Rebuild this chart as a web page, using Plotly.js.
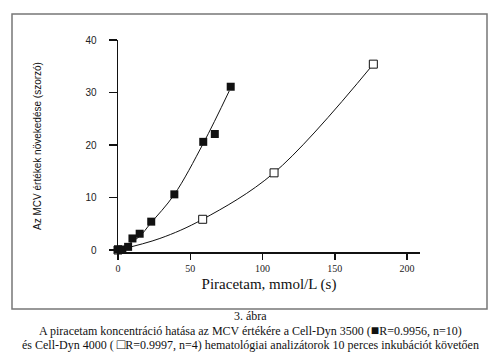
<!DOCTYPE html>
<html>
<head>
<meta charset="utf-8">
<script src="https://cdn.plot.ly/plotly-3.0.1.min.js"></script>
<style>html,body{margin:0;padding:0;background:#fff;}#chart{width:500px;height:352px;}</style>
</head>
<body>
<div id="chart"></div>
<script>
// Cell-Dyn 3500 (filled squares)
const cd3500X = [0, 3, 7, 10, 15, 23, 39, 59, 67, 78];
const cd3500Y = [0.1, 0.1, 0.6, 2.2, 3.1, 5.4, 10.6, 20.6, 22.1, 31.1];
// fitted curve
const cd3500FitX = [0, 14.5, 22.6, 38.8, 59, 77];
const cd3500FitY = [0, 2.5, 5.1, 10.5, 20.3, 30.3];
// Cell-Dyn 4000 (open squares)
const cd4000X = [0, 58.6, 108, 176.7];
const cd4000Y = [0, 5.85, 14.7, 35.4];
const cd4000FitX = [0, 29, 58.6, 108, 176.7];
const cd4000FitY = [0, 2.2, 5.85, 14.7, 35.4];

const xTicks = [0, 50, 100, 150, 200];
const yTicks = [0, 10, 20, 30, 40];

const xTitle = 'Piracetam, mmol/L (s)';
const yTitle = 'Az MCV értékek növekedése (szorzó)';
const caption1 = '3. ábra';
const caption2 = 'A piracetam koncentráció hatása az MCV értékére a Cell-Dyn 3500 (<span style="font-size:14px">■</span>R=0.9956, n=10)';
const caption3 = 'és Cell-Dyn 4000 ( <span style="font-size:14px">□</span>R=0.9997, n=4) hematológiai analizátorok 10 perces inkubációt követően';

const traces = [
  {x: cd3500FitX, y: cd3500FitY, mode: 'lines', line: {color: '#111', width: 1, shape: 'spline'}, hoverinfo: 'skip', showlegend: false, cliponaxis: false},
  {x: cd4000FitX, y: cd4000FitY, mode: 'lines', line: {color: '#111', width: 1, shape: 'spline'}, hoverinfo: 'skip', showlegend: false, cliponaxis: false},
  {x: cd4000X, y: cd4000Y, mode: 'markers', name: 'Cell-Dyn 4000', marker: {symbol: 'square', size: 8, color: '#fff', line: {color: '#111', width: 1}}, cliponaxis: false},
  {x: cd3500X, y: cd3500Y, mode: 'markers', name: 'Cell-Dyn 3500', marker: {symbol: 'square', size: 8, color: '#111', line: {color: '#111', width: 0}}, cliponaxis: false}
];

const L = 118, R = 80, T = 40, B = 100;
const W = 500 - L - R, H = 352 - T - B;
const px = v => (v - L) / W;
const py = v => (352 - B - v) / H;

const layout = {
  width: 500, height: 352,
  margin: {l: L, r: R, t: T, b: B, pad: 0},
  paper_bgcolor: '#fff', plot_bgcolor: '#fff',
  showlegend: false,
  font: {family: 'Liberation Sans, Arial, sans-serif', color: '#222', size: 10},
  xaxis: {
    range: [0, 209], tickvals: xTicks, ticktext: xTicks.map(String),
    showgrid: false, zeroline: false, showline: true, linecolor: '#111', linewidth: 1.5,
    ticks: 'outside', ticklen: 6, tickwidth: 1.5, tickcolor: '#111',
    tickfont: {family: 'Liberation Serif, Times New Roman, serif', size: 10, color: '#222'},
    title: {text: xTitle, font: {family: 'Liberation Serif, Times New Roman, serif', size: 15, color: '#111'}, standoff: 6}
  },
  yaxis: {
    range: [-0.38, 40], tickvals: yTicks, ticktext: yTicks.map(String),
    showgrid: false, zeroline: false, showline: true, linecolor: '#111', linewidth: 1.5,
    ticks: 'outside', ticklen: 8, tickwidth: 1.5, tickcolor: '#111',
    tickfont: {family: 'Liberation Sans, Arial, sans-serif', size: 10, color: '#222'},
    ticklabelstandoff: 10,
    title: {text: yTitle, font: {family: 'Liberation Sans, Arial, sans-serif', size: 10, color: '#111'}, standoff: 42}
  },
  shapes: [
    {type: 'rect', xref: 'paper', yref: 'paper', x0: px(12), x1: px(487), y0: py(309), y1: py(14), line: {color: '#777', width: 1.5}, fillcolor: 'rgba(0,0,0,0)', layer: 'below'}
  ],
  annotations: [
    {text: caption1, xref: 'paper', yref: 'paper', x: px(250), y: py(316), xanchor: 'center', yanchor: 'middle', showarrow: false, font: {family: 'Liberation Serif, Times New Roman, serif', size: 12, color: '#111'}},
    {text: caption2, xref: 'paper', yref: 'paper', x: px(250), y: py(330), xanchor: 'center', yanchor: 'middle', showarrow: false, font: {family: 'Liberation Serif, Times New Roman, serif', size: 12, color: '#111'}},
    {text: caption3, xref: 'paper', yref: 'paper', x: px(250), y: py(344), xanchor: 'center', yanchor: 'middle', showarrow: false, font: {family: 'Liberation Serif, Times New Roman, serif', size: 12, color: '#111'}}
  ]
};

Plotly.newPlot('chart', traces, layout, {displayModeBar: false, staticPlot: true});
</script>
</body>
</html>
